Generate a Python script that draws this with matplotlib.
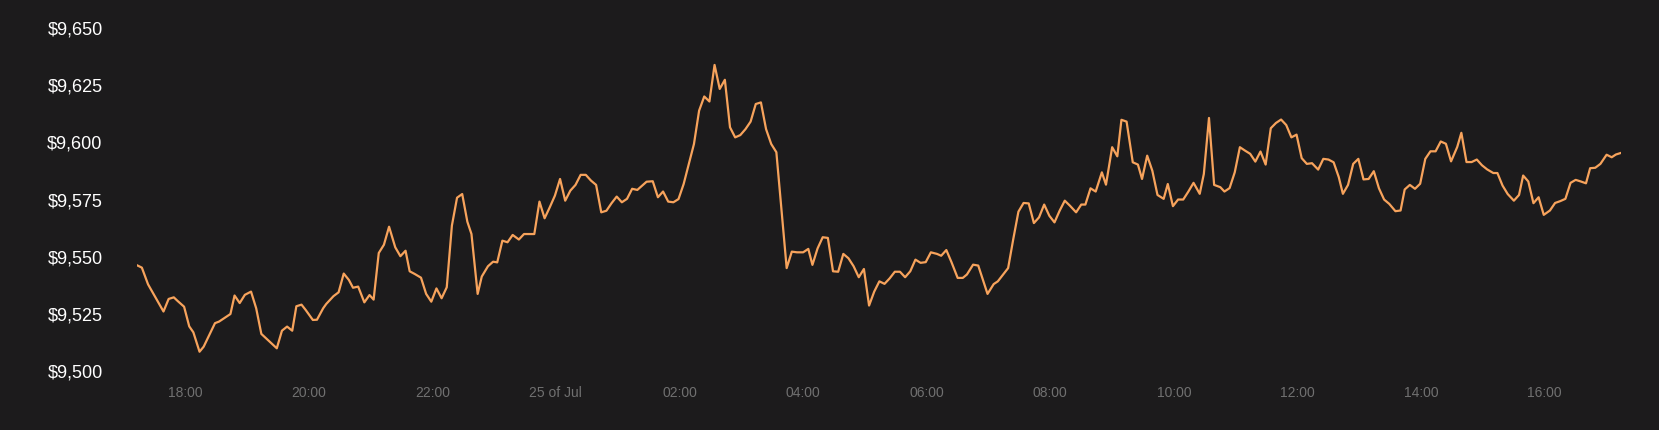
import datetime as dt

import matplotlib
matplotlib.use('Agg')
import matplotlib.pyplot as plt
import matplotlib.dates as mdates
from matplotlib.ticker import FuncFormatter

minutes = [
    1033, 1038, 1044, 1059, 1064, 1069, 1073, 1079, 1084, 1088, 1094, 1098,
    1109, 1113, 1124, 1128, 1133, 1138, 1144, 1149, 1154, 1169, 1174, 1179,
    1184, 1188, 1193, 1197, 1204, 1208, 1214, 1217, 1224, 1229, 1234, 1239,
    1243, 1248, 1254, 1259, 1263, 1268, 1273, 1278, 1284, 1289, 1294, 1298,
    1303, 1309, 1314, 1319, 1324, 1329, 1334, 1339, 1344, 1349, 1354, 1358,
    1364, 1368, 1374, 1379, 1383, 1388, 1393, 1398, 1404, 1409, 1413, 1419,
    1424, 1429, 1434, 1439, 1444, 1449, 1454, 1459, 1464, 1469, 1474, 1479,
    1484, 1489, 1494, 1499, 1504, 1509, 1514, 1519, 1528, 1534, 1539, 1544,
    1549, 1554, 1559, 1564, 1569, 1574, 1579, 1584, 1589, 1594, 1599, 1604,
    1609, 1614, 1619, 1624, 1629, 1634, 1639, 1644, 1649, 1654, 1664, 1669,
    1674, 1680, 1685, 1689, 1694, 1699, 1704, 1709, 1714, 1719, 1724, 1729,
    1734, 1739, 1744, 1749, 1754, 1759, 1764, 1769, 1774, 1779, 1784, 1789,
    1794, 1799, 1804, 1810, 1814, 1819, 1824, 1830, 1835, 1839, 1845, 1850,
    1859, 1865, 1869, 1874, 1879, 1884, 1889, 1894, 1899, 1904, 1909, 1914,
    1919, 1924, 1929, 1934, 1939, 1945, 1950, 1954, 1959, 1964, 1970, 1974,
    1980, 1985, 1989, 1994, 2000, 2005, 2009, 2014, 2019, 2024, 2030, 2034,
    2039, 2044, 2049, 2054, 2059, 2065, 2069, 2074, 2079, 2085, 2089, 2094,
    2099, 2104, 2109, 2114, 2119, 2124, 2129, 2134, 2139, 2144, 2149, 2154,
    2159, 2164, 2169, 2174, 2180, 2185, 2190, 2195, 2200, 2204, 2209, 2214,
    2219, 2224, 2229, 2234, 2239, 2244, 2249, 2255, 2260, 2264, 2269, 2274,
    2279, 2284, 2289, 2294, 2299, 2304, 2309, 2315, 2319, 2324, 2329, 2334,
    2339, 2344, 2350, 2354, 2359, 2364, 2370, 2375, 2379, 2384, 2389, 2394,
    2399, 2405, 2410, 2415, 2420, 2425, 2430, 2435, 2440, 2444, 2449, 2454,
    2460, 2465, 2469, 2474,
]

prices = [
    9545.9, 9544.8, 9537.5, 9525.6, 9531.1, 9531.8, 9530.1, 9527.7, 9519.1, 9516.5, 9508.0, 9510.2,
    9520.5, 9521.2, 9524.5, 9532.6, 9529.3, 9532.9, 9534.3, 9527.0, 9515.8, 9509.5, 9517.2, 9519.0,
    9517.2, 9527.9, 9528.6, 9526.3, 9521.9, 9522.0, 9527.0, 9528.9, 9532.3, 9534.0, 9542.2, 9539.4,
    9536.0, 9536.5, 9529.6, 9532.8, 9530.8, 9551.2, 9554.8, 9562.7, 9553.7, 9549.8, 9552.2, 9543.2,
    9542.0, 9540.4, 9533.3, 9529.9, 9535.7, 9531.4, 9536.2, 9563.2, 9575.4, 9577.0, 9564.9, 9559.5,
    9533.3, 9540.9, 9545.4, 9547.4, 9547.1, 9556.6, 9555.9, 9559.1, 9557.1, 9559.5, 9559.5, 9559.5,
    9573.7, 9566.4, 9571.2, 9576.3, 9583.6, 9574.1, 9578.5, 9581.0, 9585.4, 9585.4, 9582.9, 9581.0,
    9569.0, 9569.7, 9573.0, 9575.9, 9573.4, 9574.9, 9579.3, 9578.8, 9582.4, 9582.6, 9575.6, 9578.1,
    9573.7, 9573.4, 9574.8, 9581.4, 9590.2, 9598.9, 9613.5, 9619.7, 9617.5, 9633.5, 9623.0, 9627.0,
    9606.2, 9601.8, 9602.8, 9605.4, 9608.7, 9616.4, 9617.1, 9605.4, 9598.9, 9595.3, 9544.6, 9551.8,
    9551.5, 9551.5, 9553.0, 9546.0, 9553.2, 9558.1, 9557.8, 9543.2, 9543.0, 9550.8, 9548.9, 9545.4,
    9540.6, 9544.2, 9528.2, 9534.3, 9538.8, 9537.7, 9540.1, 9543.0, 9543.0, 9540.6, 9543.2, 9548.3,
    9546.9, 9547.2, 9551.5, 9550.8, 9550.0, 9552.5, 9547.2, 9540.3, 9540.3, 9541.8, 9546.1, 9545.7,
    9533.3, 9537.6, 9538.8, 9541.7, 9544.6, 9557.3, 9569.3, 9573.1, 9572.9, 9564.3, 9566.8, 9572.4,
    9567.5, 9564.6, 9569.7, 9574.1, 9571.9, 9569.0, 9572.4, 9572.4, 9579.5, 9578.1, 9586.5, 9581.1,
    9597.5, 9593.5, 9609.5, 9608.7, 9590.9, 9589.9, 9583.6, 9593.8, 9587.2, 9576.6, 9574.9, 9581.4,
    9571.7, 9574.6, 9574.6, 9578.1, 9581.9, 9577.1, 9585.8, 9610.3, 9581.0, 9580.0, 9578.1, 9579.6,
    9586.5, 9597.5, 9596.0, 9594.6, 9591.2, 9595.6, 9589.9, 9605.8, 9608.1, 9609.6, 9607.2, 9601.8,
    9603.0, 9592.7, 9590.2, 9590.5, 9587.7, 9592.4, 9592.1, 9590.9, 9584.4, 9577.1, 9581.0, 9590.2,
    9592.4, 9583.4, 9583.6, 9587.0, 9579.5, 9574.6, 9572.7, 9569.5, 9569.8, 9579.0, 9581.0, 9579.3,
    9581.5, 9592.4, 9595.7, 9595.7, 9600.0, 9599.0, 9591.3, 9597.6, 9603.8, 9591.0, 9591.0, 9592.1,
    9589.6, 9587.8, 9586.2, 9586.2, 9580.7, 9577.0, 9574.1, 9576.6, 9585.1, 9582.5, 9573.0, 9575.6,
    9567.9, 9569.8, 9573.1, 9573.9, 9574.9, 9581.9, 9583.2, 9582.5, 9581.7, 9588.3, 9588.5, 9590.2,
    9594.2, 9593.1, 9594.3, 9595.0,
]

y_ticks = [9500, 9525, 9550, 9575, 9600, 9625, 9650]
x_tick_hours = [18, 20, 22, 24, 26, 28, 30, 32, 34, 36, 38, 40]

BG = '#1c1b1c'
LINE = '#f7a35c'

day0 = dt.datetime(2020, 7, 24)
times = [day0 + dt.timedelta(minutes=m) for m in minutes]
xticks = [day0 + dt.timedelta(hours=h) for h in x_tick_hours]

plt.rcParams['font.family'] = ['Liberation Sans', 'DejaVu Sans']

fig = plt.figure(figsize=(16.59, 4.31), dpi=100, facecolor=BG)
ax = fig.add_axes([0.0824, 0.1392, 0.8947, 0.7953], facecolor=BG)

ax.plot(times, prices, color=LINE, lw=1.6, solid_joinstyle='round')

ax.set_xlim(times[0], times[-1])
ax.set_ylim(9500, 9650)

ax.set_yticks(y_ticks)
ax.yaxis.set_major_formatter(FuncFormatter(lambda v, p: '${:,.0f}'.format(v)))

def xfmt(v, p):
    d = mdates.num2date(v)
    if d.hour == 0 and d.minute == 0:
        return '%d of %s' % (d.day, d.strftime('%b'))
    return d.strftime('%H:%M')

ax.set_xticks(xticks)
ax.xaxis.set_major_formatter(FuncFormatter(xfmt))

ax.tick_params(axis='y', length=0, pad=24.5, labelsize=13, labelcolor='#ffffff')
ax.tick_params(axis='x', length=0, pad=11, labelsize=10, labelcolor='#707070')

for s in ax.spines.values():
    s.set_visible(False)

fig.savefig('out.png', dpi=100, facecolor=BG)
